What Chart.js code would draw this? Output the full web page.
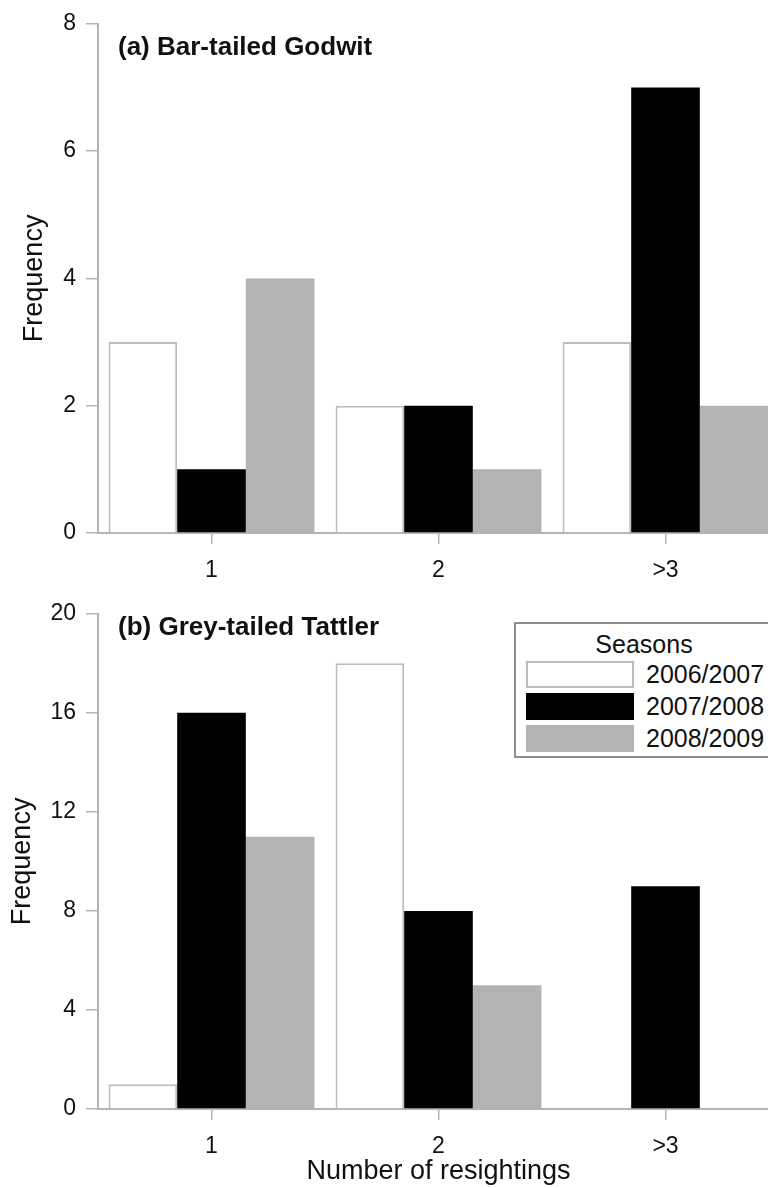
<!DOCTYPE html>
<html>
<head>
<meta charset="utf-8">
<script src="https://cdn.jsdelivr.net/npm/chart.js@4.4.1/dist/chart.umd.min.js"></script>
<style>
  body { margin: 0; width: 768px; height: 1188px; overflow: hidden; background: #fff; font-family: "Liberation Sans", Arial, sans-serif; }
  .panel { position: relative; width: 780px; }
  #legend {
    position: absolute; left: 514px; top: 622px; width: 262px; height: 136px;
    border: 2px solid #8c8c8c; box-sizing: border-box; background: #fff;
  }
  #legend .ttl { text-align: center; font-size: 25px; color: #111; margin: 6px 0 0 0; padding-right: 2px; line-height: 28px; }
  #legend .row { display: flex; align-items: center; height: 32px; }
  #legend .sw { width: 108px; height: 27px; margin-left: 10px; box-sizing: border-box; }
  #legend .lb { font-size: 25px; color: #111; margin-left: 12px; white-space: nowrap; }
</style>
</head>
<body>
<div class="panel" style="height:590px"><canvas id="chartA"></canvas></div>
<div class="panel" style="height:598px"><canvas id="chartB"></canvas></div>
<div id="legend"></div>

<script>
var categories = ["1", "2", ">3"];
var seasons = ["2006/2007", "2007/2008", "2008/2009"];

// (a) Bar-tailed Godwit
var godwit0607 = [3, 2, 3];
var godwit0708 = [1, 2, 7];
var godwit0809 = [4, 1, 2];

// (b) Grey-tailed Tattler
var tattler0607 = [1, 18, 0];
var tattler0708 = [16, 8, 9];
var tattler0809 = [11, 5, 0];

var fills = ["#ffffff", "#000000", "#b3b3b3"];
var borders = ["#bdbdbd", "#000000", "#b3b3b3"];
var borderWidths = [2, 0, 0];

var axisGrey = "#b5b5b5";
var font = "'Liberation Sans', Arial, sans-serif";

var panelTitle = {
  id: "panelTitle",
  afterDraw: function (chart, args, opts) {
    var ctx = chart.ctx;
    ctx.save();
    ctx.font = "bold 26px " + font;
    ctx.fillStyle = "#111";
    ctx.textBaseline = "middle";
    ctx.fillText(opts.text, chart.chartArea.left + 20, chart.chartArea.top + opts.dy);
    ctx.restore();
  }
};

function makeDatasets(series) {
  return series.map(function (vals, i) {
    return {
      label: seasons[i],
      data: vals,
      backgroundColor: fills[i],
      borderColor: borders[i],
      borderWidth: borderWidths[i],
      barPercentage: 1,
      categoryPercentage: 0.907
    };
  });
}

function makeChart(id, series, max, step, title, opt) {
  return new Chart(document.getElementById(id), {
    type: "bar",
    data: { labels: categories, datasets: makeDatasets(series) },
    plugins: [panelTitle],
    options: {
      responsive: true,
      maintainAspectRatio: false,
      animation: false,
      layout: { padding: { top: opt.padTop, right: 1, left: 0, bottom: 0 } },
      plugins: {
        legend: { display: false },
        tooltip: { enabled: false },
        panelTitle: { text: title, dy: opt.titleDy }
      },
      scales: {
        x: {
          afterFit: function (s) { s.height = opt.xHeight; },
          grid: { display: true, drawOnChartArea: false, offset: false, tickLength: 11, color: axisGrey, lineWidth: 1.5 },
          border: { display: true, color: axisGrey, width: 2 },
          ticks: { color: "#111", font: { family: font, size: 23 }, padding: 13 },
          title: {
            display: opt.xTitle,
            text: "Number of resightings",
            color: "#111",
            font: { family: font, size: 27 },
            padding: { top: 0, bottom: 0 }
          }
        },
        y: {
          min: 0,
          max: max,
          afterFit: function (s) { s.width = 98; },
          grid: { display: true, drawOnChartArea: false, tickLength: 12, color: axisGrey, lineWidth: 1.5 },
          border: { display: true, color: axisGrey, width: 2 },
          ticks: { stepSize: step, color: "#111", font: { family: font, size: 23 }, padding: 10 },
          title: {
            display: true,
            text: "Frequency",
            color: "#111",
            font: { family: font, size: 27 },
            padding: { top: opt.yTitlePad, bottom: 0 }
          }
        }
      }
    }
  });
}

makeChart("chartA", [godwit0607, godwit0708, godwit0809], 8, 2, "(a) Bar-tailed Godwit",
  { padTop: 23, xHeight: 57, titleDy: 24, xTitle: false, yTitlePad: 18 });
makeChart("chartB", [tattler0607, tattler0708, tattler0809], 20, 4, "(b) Grey-tailed Tattler",
  { padTop: 7, xHeight: 79, titleDy: 14, xTitle: true, yTitlePad: 6 });

// legend built from the same season names / colours
var legend = document.getElementById("legend");
var html = '<div class="ttl">Seasons</div>';
seasons.forEach(function (s, i) {
  html += '<div class="row"><div class="sw" style="background:' + fills[i] +
    ';border:' + (borderWidths[i] ? '2px solid ' + borders[i] : 'none') + '"></div>' +
    '<div class="lb">' + s + '</div></div>';
});
legend.innerHTML = html;
</script>
</body>
</html>
